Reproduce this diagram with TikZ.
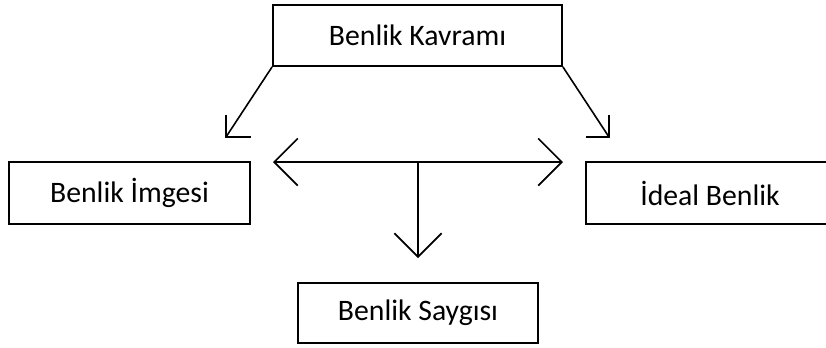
\documentclass[tikz,border=0pt]{standalone}
\usepackage{fontspec}
\setmainfont{Carlito}
\usetikzlibrary{arrows.meta}
\begin{document}
\begin{tikzpicture}[x=0.75pt,y=-0.75pt,
  box/.style={draw, line width=1.4pt, inner sep=0pt, font=\fontsize{22.3}{26}\selectfont},
  conn/.style={line width=1.2pt},
  barb/.style={-{Straight Barb[angle=90:25pt, line width=1.2pt]}}]
\useasboundingbox (0,0) rectangle (826,347);
\clip (0,0) rectangle (826,347);
\fill[white] (0,0) rectangle (826,347);
\node[box, minimum width=289*0.75pt, minimum height=61*0.75pt] (kav) at (417.5,35.5) {Benlik Kavramı};
\node[box, minimum width=241*0.75pt, minimum height=62*0.75pt] (img) at (129.5,193) {Benlik İmgesi};
\node[box, minimum width=248*0.75pt, minimum height=62*0.75pt] (ide) at (710,193) {İdeal Benlik};
\node[box, minimum width=240*0.75pt, minimum height=60*0.75pt] (say) at (418,313) {Benlik Saygısı};
% diagonal arrows
\coordinate (tl) at (226,137);
\coordinate (tr) at (609,137);
\draw[conn] (kav.south west) -- (tl);
\draw[conn] (kav.south east) -- (tr);
\draw[conn] ([yshift=22*0.75pt]tl) -- (tl) -- ([xshift=25*0.75pt]tl);
\draw[conn] ([yshift=22*0.75pt]tr) -- (tr) -- ([xshift=-23*0.75pt]tr);
% double arrow
\coordinate (hl) at (273,162);
\coordinate (hr) at (563,162);
\coordinate (hm) at (418,162);
\coordinate (vb) at (418,258);
\draw[conn, barb] (hm) -- (hl);
\draw[conn, barb] (hm) -- (hr);
\draw[conn, barb] (hm) -- (vb);
\end{tikzpicture}
\end{document}
